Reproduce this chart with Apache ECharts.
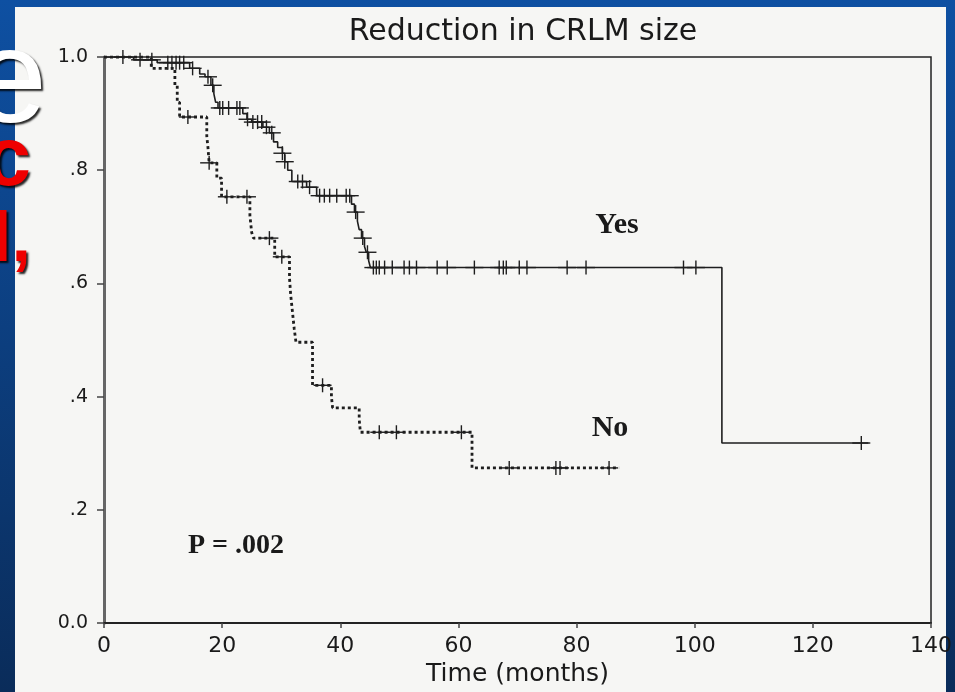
<!DOCTYPE html>
<html>
<head>
<meta charset="utf-8">
<script src="https://cdn.jsdelivr.net/npm/echarts@6/dist/echarts.min.js"></script>
<style>
html,body{margin:0;padding:0;width:955px;height:692px;overflow:hidden;background:linear-gradient(#0e50a2,#0a2c5a);}
#c{width:955px;height:692px;}
</style>
</head>
<body>
<div id="c"></div>
<script>
// ---- Data ----
const titleText = 'Reduction in CRLM size';
const xName = 'Time (months)';
const yTickLabels = ['0.0', '.2', '.4', '.6', '.8', '1.0'];

// "Yes" group: Kaplan-Meier step points (time in months, survival)
const yesT = [0, 5.0, 9.0, 14.5, 16.2, 17.1, 18.1, 18.6, 18.9, 19.3, 23.5, 24.2, 25.0, 26.9, 28.0, 28.7, 29.4, 30.2, 30.6, 31.1, 31.8, 34.3, 36.0, 41.9, 42.4, 42.9, 43.2, 43.6, 44.1, 44.4, 44.8, 45.1, 104.6, 129.4];
const yesS = [1.0, 0.995, 0.99, 0.98, 0.97, 0.965, 0.95, 0.935, 0.92, 0.91, 0.90, 0.89, 0.885, 0.876, 0.866, 0.85, 0.84, 0.83, 0.815, 0.80, 0.78, 0.77, 0.755, 0.74, 0.726, 0.71, 0.695, 0.68, 0.665, 0.655, 0.64, 0.628, 0.318, 0.318];
// "Yes" censored observations
const yesCensT = [3.2, 6.1, 8.1, 10.8, 11.5, 12.2, 12.8, 13.5, 15.0, 17.6, 18.4, 19.6, 20.1, 21.1, 22.5, 23.0, 24.3, 25.2, 26.0, 26.7, 27.5, 28.4, 30.2, 30.6, 32.8, 33.6, 34.8, 36.5, 37.3, 38.2, 39.4, 41.0, 41.6, 42.6, 43.8, 44.6, 45.6, 46.1, 46.6, 47.5, 48.8, 50.8, 51.7, 52.9, 56.4, 58.1, 62.7, 66.9, 67.6, 68.1, 70.3, 71.6, 78.4, 81.6, 98.1, 100.2, 128.2];
const yesCensS = [1.0, 0.995, 0.995, 0.99, 0.99, 0.99, 0.99, 0.99, 0.98, 0.965, 0.95, 0.91, 0.91, 0.91, 0.91, 0.91, 0.89, 0.885, 0.885, 0.885, 0.876, 0.866, 0.83, 0.815, 0.78, 0.78, 0.77, 0.755, 0.755, 0.755, 0.755, 0.755, 0.755, 0.726, 0.68, 0.655, 0.628, 0.628, 0.628, 0.628, 0.628, 0.628, 0.628, 0.628, 0.628, 0.628, 0.628, 0.628, 0.628, 0.628, 0.628, 0.628, 0.628, 0.628, 0.628, 0.628, 0.318];

// "No" group
const noT = [0, 8.0, 12.0, 12.4, 12.8, 17.4, 17.6, 17.8, 19.1, 19.9, 24.7, 25.0, 25.3, 28.9, 31.4, 31.6, 31.9, 32.2, 32.5, 35.3, 38.5, 38.7, 43.2, 43.4, 62.3, 87.2];
const noS = [1.0, 0.98, 0.95, 0.92, 0.894, 0.86, 0.84, 0.813, 0.786, 0.753, 0.72, 0.69, 0.68, 0.647, 0.61, 0.58, 0.55, 0.52, 0.496, 0.42, 0.40, 0.38, 0.36, 0.337, 0.274, 0.274];
const noCensT = [14.2, 17.8, 20.8, 24.2, 28.0, 30.1, 37.0, 46.6, 49.5, 60.5, 68.6, 76.5, 77.2, 85.5];
const noCensS = [0.894, 0.813, 0.753, 0.753, 0.68, 0.647, 0.42, 0.337, 0.337, 0.337, 0.274, 0.274, 0.274, 0.274];

const pairs = (a, b) => a.map((v, i) => [v, b[i]]);

const ink = '#1e1e1e';

function plusMark(params, api) {
  const p = api.coord([api.value(0), api.value(1)]);
  const st = { stroke: ink, lineWidth: 1.4 };
  return {
    type: 'group',
    children: [
      { type: 'line', shape: { x1: p[0] - 9, y1: p[1], x2: p[0] + 9, y2: p[1] }, style: st },
      { type: 'line', shape: { x1: p[0], y1: p[1] - 7, x2: p[0], y2: p[1] + 7 }, style: st }
    ]
  };
}

const chart = echarts.init(document.getElementById('c'), null, { renderer: 'canvas' });

const option = {
  backgroundColor: 'transparent',
  animation: false,
  title: {
    text: titleText,
    left: 518,
    textAlign: 'center',
    top: 12,
    textStyle: { fontFamily: 'DejaVu Sans', fontSize: 30, fontWeight: 'normal', color: '#1a1a1a' }
  },
  grid: {
    left: 104, right: 22, top: 57, bottom: 69,
    show: true, borderColor: '#222', borderWidth: 1.5, backgroundColor: 'transparent'
  },
  xAxis: {
    type: 'value', min: 0, max: 140, interval: 20,
    name: xName, nameLocation: 'middle', nameGap: 37,
    nameTextStyle: { fontFamily: 'DejaVu Sans', fontSize: 25, color: '#1a1a1a' },
    axisLine: { show: true, lineStyle: { color: '#222', width: 2 } },
    axisTick: { show: true, length: 5, lineStyle: { color: '#444', width: 1.5 } },
    axisLabel: { margin: 12, fontFamily: 'DejaVu Sans', fontSize: 22, color: '#1a1a1a' },
    splitLine: { show: false }
  },
  yAxis: {
    type: 'value', min: 0, max: 1, interval: 0.2,
    axisLine: { show: true, lineStyle: { color: '#666', width: 3 } },
    axisTick: { show: true, length: 7, lineStyle: { color: '#444', width: 1.5 } },
    axisLabel: {
      margin: 16, fontFamily: 'DejaVu Sans', fontSize: 19, color: '#1a1a1a',
      formatter: v => yTickLabels[Math.round(v * 5)]
    },
    splitLine: { show: false }
  },
  series: [
    {
      name: 'Yes', type: 'line', step: 'end', data: pairs(yesT, yesS),
      showSymbol: false, symbol: 'none',
      lineStyle: { color: ink, width: 1.6, type: 'solid' }, z: 3
    },
    {
      name: 'No', type: 'line', step: 'end', data: pairs(noT, noS),
      showSymbol: false, symbol: 'none',
      lineStyle: { color: ink, width: 2.8, type: [3, 3] }, z: 3
    },
    {
      name: 'Yes censored', type: 'custom', renderItem: plusMark,
      encode: { x: 0, y: 1 }, data: pairs(yesCensT, yesCensS), z: 4
    },
    {
      name: 'No censored', type: 'custom', renderItem: plusMark,
      encode: { x: 0, y: 1 }, data: pairs(noCensT, noCensS), z: 4
    }
  ],
  graphic: [
    { type: 'rect', z: -100, shape: { x: 15, y: 7, width: 931, height: 700 }, style: { fill: '#f6f6f4' } },
    { type: 'text', z: 100, x: 617, y: 225, style: { text: 'Yes', fontFamily: 'Liberation Serif', fontWeight: 'bold', fontSize: 30, fill: '#1a1a1a', align: 'center', verticalAlign: 'middle' } },
    { type: 'text', z: 100, x: 610, y: 428, style: { text: 'No', fontFamily: 'Liberation Serif', fontWeight: 'bold', fontSize: 30, fill: '#1a1a1a', align: 'center', verticalAlign: 'middle' } },
    { type: 'text', z: 100, x: 236, y: 546, style: { text: 'P = .002', fontFamily: 'Liberation Serif', fontWeight: 'bold', fontSize: 28, fill: '#1a1a1a', align: 'center', verticalAlign: 'middle' } },
    { type: 'text', z: 100, x: 47, y: 85, style: { text: 'e', fontFamily: 'Liberation Sans', fontSize: 134, fill: '#ffffff', align: 'right', verticalAlign: 'middle', textShadowColor: 'rgba(0,0,0,0.85)', textShadowOffsetX: 2, textShadowOffsetY: 2, textShadowBlur: 2 } },
    { type: 'text', z: 100, x: 31, y: 162, style: { text: 'c', fontFamily: 'Liberation Sans', fontWeight: 'bold', fontSize: 84, fill: '#ee0000', align: 'right', verticalAlign: 'middle', textShadowColor: 'rgba(0,0,0,0.85)', textShadowOffsetX: 2, textShadowOffsetY: 2, textShadowBlur: 2 } },
    { type: 'text', z: 100, x: 31, y: 242, style: { text: 'l,', fontFamily: 'Liberation Sans', fontWeight: 'bold', fontSize: 70, fill: '#ee0000', align: 'right', verticalAlign: 'middle', textShadowColor: 'rgba(0,0,0,0.85)', textShadowOffsetX: 2, textShadowOffsetY: 2, textShadowBlur: 2 } }
  ]
};

chart.setOption(option);
</script>
</body>
</html>
